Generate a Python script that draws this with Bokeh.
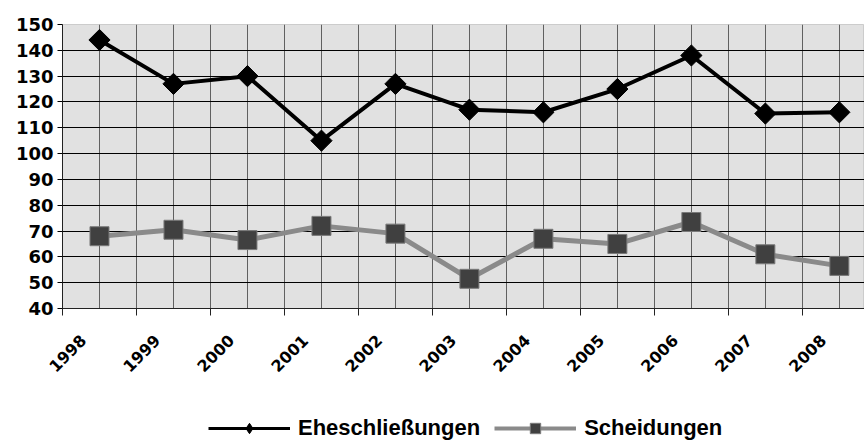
import math
from bokeh.plotting import figure
from bokeh.layouts import column
from bokeh.models import Range1d, FixedTicker, Legend, LegendItem
from bokeh.embed import file_html
from bokeh.resources import INLINE

years = ["1998", "1999", "2000", "2001", "2002", "2003", "2004", "2005", "2006", "2007", "2008"]
eheschliessungen = [144, 127, 130, 105, 127, 117, 116, 125, 138, 115.5, 116]
scheidungen = [68, 70.5, 66.5, 72, 69, 51.5, 67, 65, 73.5, 61, 56.5]
y_ticks = [40, 50, 60, 70, 80, 90, 100, 110, 120, 130, 140, 150]
series_names = ["Eheschließungen", "Scheidungen"]

x = [i + 0.5 for i in range(len(years))]
label_pos = [i + 0.28 for i in range(len(years))]

FONT = "DejaVu Sans"
LEG_FONT = "Liberation Sans"

p = figure(width=864, height=384, output_backend="svg", toolbar_location=None,
           x_range=Range1d(0, 10.84), y_range=Range1d(40, 150),
           min_border_left=62, min_border_right=0, min_border_top=24, min_border_bottom=76)
p.background_fill_color = "#e1e1e1"
p.border_fill_color = "white"
p.outline_line_color = "#cccccc"

# grids
p.xgrid.ticker = FixedTicker(ticks=[i * 0.5 for i in range(0, 23)])
p.xgrid.grid_line_color = "#606060"
p.xgrid.grid_line_width = 1
p.ygrid.ticker = FixedTicker(ticks=y_ticks[1:-1])
p.ygrid.grid_line_color = "black"
p.ygrid.grid_line_width = 1

# y axis
p.yaxis.ticker = FixedTicker(ticks=y_ticks)
p.yaxis.major_tick_out = 5
p.yaxis.major_tick_in = 0
p.yaxis.minor_tick_line_color = None
p.yaxis.axis_line_color = "#222222"
p.yaxis.major_label_text_font = FONT
p.yaxis.major_label_text_font_style = "bold"
p.yaxis.major_label_text_font_size = "18px"
p.yaxis.major_label_text_color = "black"
p.yaxis.major_label_standoff = 4

# x axis
p.xaxis.ticker = FixedTicker(ticks=label_pos, minor_ticks=list(range(0, 12)))
p.xaxis.major_label_overrides = {xv: y for xv, y in zip(label_pos, years)}
p.xaxis.major_tick_line_color = None
p.xaxis.minor_tick_out = 7
p.xaxis.minor_tick_in = 0
p.xaxis.minor_tick_line_color = "#222222"
p.xaxis.minor_tick_line_width = 1
p.xaxis.axis_line_color = "#222222"
p.xaxis.major_label_orientation = math.pi / 4
p.xaxis.major_label_text_font = FONT
p.xaxis.major_label_text_font_style = "bold"
p.xaxis.major_label_text_font_size = "16px"
p.xaxis.major_label_text_color = "black"
p.xaxis.major_label_standoff = 22

# series
SCH_LINE = dict(line_color="#8a8a8a", line_width=5)
SCH_MARK = dict(marker="square", fill_color="#404040", line_color="#7a7a7a", line_width=1)
EHE_LINE = dict(line_color="black", line_width=4)

p.line(x, scheidungen, **SCH_LINE)
p.scatter(x, scheidungen, size=19, **SCH_MARK)
p.line(x, eheschliessungen, **EHE_LINE)
p.scatter(x, eheschliessungen, marker="square", angle=math.pi / 4, size=15,
          fill_color="black", line_color="black")

# legend strip below the chart (its renderers use the same data, kept out of view)
p2 = figure(width=864, height=57, output_backend="svg", toolbar_location=None,
            x_axis_type=None, y_axis_type=None,
            x_range=Range1d(0, 1), y_range=Range1d(1000, 1001),
            min_border_left=0, min_border_right=0, min_border_top=0, min_border_bottom=0)
p2.outline_line_color = None
p2.background_fill_color = "white"
p2.border_fill_color = "white"

k1 = p2.line(x, eheschliessungen, line_color="black", line_width=3)
k1m = p2.scatter(x, eheschliessungen, marker="diamond", fill_color="black", line_color="black")
k2 = p2.line(x, scheidungen, line_color="#8a8a8a", line_width=4)
k2m = p2.scatter(x, scheidungen, **SCH_MARK)

legend = Legend(items=[LegendItem(label=series_names[0], renderers=[k1, k1m]),
                       LegendItem(label=series_names[1], renderers=[k2, k2m])],
                location=(146, 0), orientation="horizontal",
                glyph_width=82, glyph_height=26, label_standoff=8, spacing=14,
                padding=0, margin=0, border_line_color=None, background_fill_alpha=0,
                label_text_font=LEG_FONT, label_text_font_style="bold",
                label_text_font_size="22px", label_text_color="black")
p2.add_layout(legend, "center")

layout = column(p, p2, spacing=0)
open("out.html", "w").write(file_html(layout, INLINE))
